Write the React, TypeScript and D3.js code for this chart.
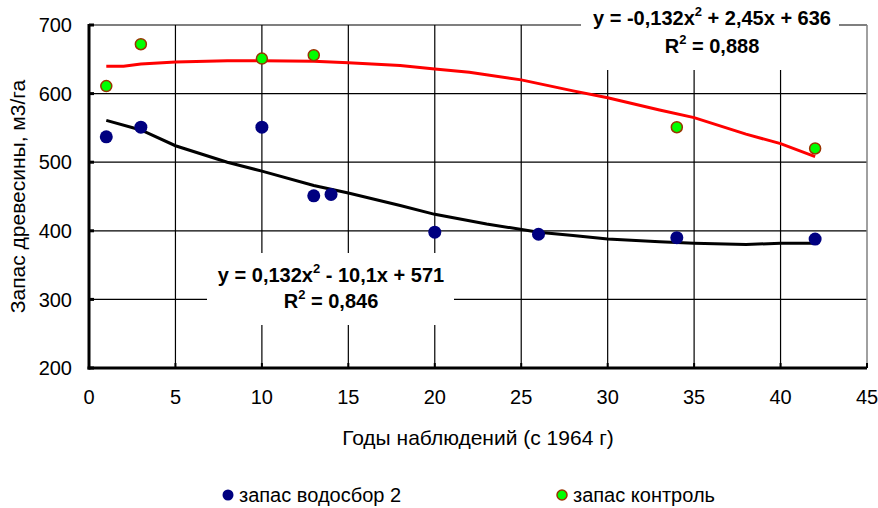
import { useEffect, useRef } from 'react';
import * as d3 from 'd3';

const WIDTH = 878;
const HEIGHT = 508;
const MARGIN = { top: 25, right: 11, bottom: 140, left: 89 };

// точки наблюдений
const yearsCatch = [1, 3, 10, 13, 14, 20, 26, 34, 42];
const stockCatch = [537, 551, 551, 451, 453, 398, 395, 390, 388];
const yearsControl = [1, 3, 10, 13, 34, 42];
const stockControl = [611, 672, 651, 656, 551, 520];

// линии тренда
const trendCatchX = [1, 3, 5, 8, 10, 13, 15, 18, 20, 23, 26, 28, 30, 33, 35, 38, 40, 42];
const trendCatchY = [561, 547, 524, 500, 487, 466, 455, 437, 424, 410, 398, 393, 388, 384, 382, 380, 382, 382];
const trendControlX = [1, 2, 3, 5, 8, 10, 13, 15, 18, 20, 22, 25, 28, 30, 33, 35, 38, 40, 42];
const trendControlY = [640, 640, 643, 646, 648, 648, 647, 645, 641, 636, 631, 620, 604, 594, 576, 565, 541, 527, 508];

const xTicks = [0, 5, 10, 15, 20, 25, 30, 35, 40, 45];
const yTicks = [200, 300, 400, 500, 600, 700];

const FONT = '"Liberation Sans", Arial, sans-serif';

export default function App() {
  const svgRef = useRef<SVGSVGElement>(null);

  useEffect(() => {
    if (!svgRef.current) return;
    const svg = d3.select(svgRef.current);
    svg.selectAll('*').remove();

    const x = d3.scaleLinear().domain([0, 45]).range([MARGIN.left, WIDTH - MARGIN.right]);
    const y = d3.scaleLinear().domain([200, 700]).range([HEIGHT - MARGIN.bottom, MARGIN.top]);
    const [x0, x1] = x.range();
    const [y0, y1] = y.range();

    svg.append('rect').attr('width', WIDTH).attr('height', HEIGHT).attr('fill', '#fff');

    // сетка
    svg.append('g')
      .selectAll('line')
      .data(yTicks.slice(1))
      .join('line')
      .attr('x1', x0).attr('x2', x1)
      .attr('y1', d => y(d)).attr('y2', d => y(d))
      .attr('stroke', '#000').attr('stroke-width', 1.2);
    svg.append('g')
      .selectAll('line')
      .data(xTicks.slice(1, -1))
      .join('line')
      .attr('x1', d => x(d)).attr('x2', d => x(d))
      .attr('y1', y0).attr('y2', y1)
      .attr('stroke', '#000').attr('stroke-width', 1.2);

    // правая рамка
    svg.append('line')
      .attr('x1', x1).attr('x2', x1).attr('y1', y1).attr('y2', y0)
      .attr('stroke', '#808080').attr('stroke-width', 1.5);

    // белые подложки под уравнения
    svg.append('rect').attr('x', 581).attr('y', 4).attr('width', 258).attr('height', 66).attr('fill', '#fff');
    svg.append('rect').attr('x', 207).attr('y', 253).attr('width', 247).attr('height', 72).attr('fill', '#fff');

    // оси
    const axisG = svg.append('g');
    axisG.append('line')
      .attr('x1', x0).attr('x2', x0).attr('y1', y1 - 1).attr('y2', y0 + 1.5)
      .attr('stroke', '#000').attr('stroke-width', 3);
    axisG.append('line')
      .attr('x1', x0 - 1.5).attr('x2', x1).attr('y1', y0).attr('y2', y0)
      .attr('stroke', '#000').attr('stroke-width', 3);
    axisG.selectAll('.yt')
      .data(yTicks)
      .join('line')
      .attr('x1', x0).attr('x2', x0 + 5)
      .attr('y1', d => y(d)).attr('y2', d => y(d))
      .attr('stroke', '#000').attr('stroke-width', 3);
    axisG.selectAll('.xt')
      .data(xTicks)
      .join('line')
      .attr('x1', d => x(d)).attr('x2', d => x(d))
      .attr('y1', y0).attr('y2', y0 - 5)
      .attr('stroke', '#000').attr('stroke-width', 2);

    svg.append('g')
      .selectAll('text')
      .data(yTicks)
      .join('text')
      .attr('x', 72).attr('y', d => y(d)).attr('dy', '0.36em')
      .attr('text-anchor', 'end')
      .style('font-family', FONT).style('font-size', '20px')
      .text(d => d);
    svg.append('g')
      .selectAll('text')
      .data(xTicks)
      .join('text')
      .attr('x', d => x(d)).attr('y', 397).attr('dy', '0.36em')
      .attr('text-anchor', 'middle')
      .style('font-family', FONT).style('font-size', '20px')
      .text(d => d);

    // подписи осей
    svg.append('text')
      .attr('x', (x0 + x1) / 2).attr('y', 437).attr('dy', '0.36em')
      .attr('text-anchor', 'middle')
      .style('font-family', FONT).style('font-size', '21px')
      .text('Годы наблюдений (с 1964 г)');
    svg.append('text')
      .attr('transform', `translate(17, ${(y0 + y1) / 2}) rotate(-90)`)
      .attr('dy', '0.36em')
      .attr('text-anchor', 'middle')
      .style('font-family', FONT).style('font-size', '21px')
      .text('Запас древесины, м3/га');

    // тренды
    const line = d3.line<[number, number]>().x(d => x(d[0])).y(d => y(d[1]));
    svg.append('path')
      .datum(trendCatchX.map((v, i) => [v, trendCatchY[i]] as [number, number]))
      .attr('d', line)
      .attr('fill', 'none').attr('stroke', '#000').attr('stroke-width', 3);
    svg.append('path')
      .datum(trendControlX.map((v, i) => [v, trendControlY[i]] as [number, number]))
      .attr('d', line)
      .attr('fill', 'none').attr('stroke', '#ff0000').attr('stroke-width', 3);

    // точки
    svg.append('g')
      .selectAll('circle')
      .data(yearsCatch.map((v, i) => [v, stockCatch[i]]))
      .join('circle')
      .attr('cx', d => x(d[0])).attr('cy', d => y(d[1]))
      .attr('r', 6.5).attr('fill', '#000080');
    svg.append('g')
      .selectAll('circle')
      .data(yearsControl.map((v, i) => [v, stockControl[i]]))
      .join('circle')
      .attr('cx', d => x(d[0])).attr('cy', d => y(d[1]))
      .attr('r', 5.5).attr('fill', '#00ff00')
      .attr('stroke', '#993300').attr('stroke-width', 1.5);

    // уравнения
    const eq = (cx: number, cy: number, parts: [string, string, string]) => {
      const t = svg.append('text')
        .attr('x', cx).attr('y', cy)
        .attr('text-anchor', 'middle')
        .style('font-family', FONT).style('font-size', '20px').style('font-weight', 'bold');
      t.append('tspan').text(parts[0]);
      t.append('tspan').attr('dy', -9).style('font-size', '13px').text(parts[1]);
      t.append('tspan').attr('dy', 9).text(parts[2]);
    };
    eq(712, 25, ['y = -0,132x', '2', ' + 2,45x + 636']);
    eq(712, 53, ['R', '2', ' = 0,888']);
    eq(331, 282, ['y = 0,132x', '2', ' - 10,1x + 571']);
    eq(331, 308, ['R', '2', ' = 0,846']);

    // легенда
    const legend = svg.append('g');
    legend.append('circle').attr('cx', 228).attr('cy', 495).attr('r', 5.5).attr('fill', '#000080');
    legend.append('text').attr('x', 239).attr('y', 495).attr('dy', '0.36em')
      .style('font-family', FONT).style('font-size', '20px').text('запас водосбор 2');
    legend.append('circle').attr('cx', 562).attr('cy', 495).attr('r', 5)
      .attr('fill', '#00ff00').attr('stroke', '#993300').attr('stroke-width', 1.5);
    legend.append('text').attr('x', 573).attr('y', 495).attr('dy', '0.36em')
      .style('font-family', FONT).style('font-size', '20px').text('запас контроль');
  }, []);

  return (
    <svg
      ref={svgRef}
      width={WIDTH}
      height={HEIGHT}
      style={{ position: 'absolute', left: 0, top: 0 }}
    />
  );
}
